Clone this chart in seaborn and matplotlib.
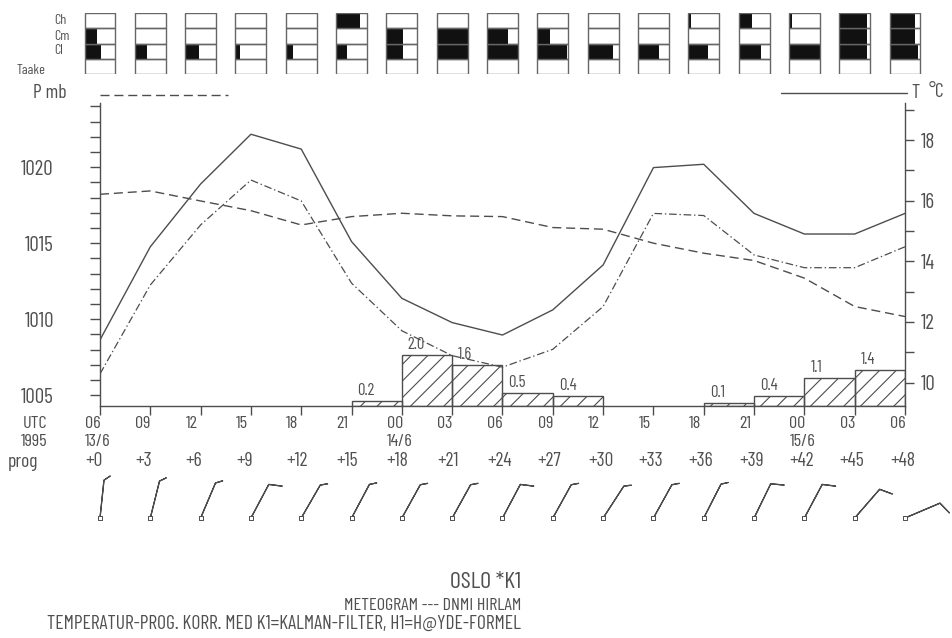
import numpy as np
import pandas as pd
import matplotlib
matplotlib.use('Agg')
import matplotlib.pyplot as plt
import matplotlib.transforms as mtransforms
from matplotlib import font_manager as fm
import seaborn as sns

# ---------------- data ----------------
prog = [0, 3, 6, 9, 12, 15, 18, 21, 24, 27, 30, 33, 36, 39, 42, 45, 48]
utc_labels = ['06', '09', '12', '15', '18', '21', '00', '03', '06',
              '09', '12', '15', '18', '21', '00', '03', '06']
prog_labels = ['+' + str(p) for p in prog]
date_prog = [0, 18, 42]
date_labels = ['13/6', '14/6', '15/6']

temp_k1 = [11.41, 14.48, 16.55, 18.19, 17.70, 14.65, 12.78, 11.98, 11.57,
           12.40, 13.88, 17.09, 17.20, 15.58, 14.90, 14.90, 15.58]
temp_h1 = [10.29, 13.22, 15.20, 16.68, 15.99, 13.28, 11.71, 10.89, 10.51,
           11.10, 12.51, 15.58, 15.51, 14.21, 13.79, 13.79, 14.48]
pressure = [1018.22, 1018.44, 1017.78, 1017.14, 1016.20, 1016.75, 1016.97,
            1016.80, 1016.75, 1016.03, 1015.92, 1015.00, 1014.34, 1013.86,
            1012.70, 1010.83, 1010.17]

precip_start = [15, 18, 21, 24, 27, 36, 39, 42, 45]
precip_mm = [0.2, 2.0, 1.6, 0.5, 0.4, 0.1, 0.4, 1.1, 1.4]

cloud_ch = [0, 0, 0, 0, 0, 0.78, 0, 0, 0, 0, 0, 0, 0.08, 0.42, 0.11, 0.91, 0.83]
cloud_cm = [0.41, 0, 0, 0, 0, 0, 0.54, 1.0, 0.68, 0.40, 0, 0, 0, 0, 0, 0.91, 0.83]
cloud_cl = [0.52, 0.38, 0.44, 0.15, 0.22, 0.35, 0.54, 1.0, 1.0, 0.96, 0.83,
            0.69, 0.65, 0.73, 1.0, 0.91, 0.92]
cloud_fog = [0] * 17

wind_dir = [6, 14, 23, 28, 30, 28, 29, 29, 28, 29, 33, 29, 27, 26, 28, 41, 67]
wind_kt = [5, 5, 5, 10, 5, 5, 5, 5, 10, 5, 5, 5, 5, 10, 10, 10, 10]

TITLE1 = 'OSLO *K1'
TITLE2 = 'METEOGRAM --- DNMI HIRLAM'
TITLE3 = 'TEMPERATUR-PROG. KORR. MED K1=KALMAN-FILTER, H1=H@YDE-FORMEL'

# ---------------- style ----------------
W, H, DPI = 953, 638, 100
sns.set_theme(style='white')
ttf = fm.fontManager.ttflist
avail = {f.name for f in ttf}


def pick_font():
    prefs = ['Saira Extra Condensed', 'Barlow Condensed', 'Saira Condensed',
             'Roboto Condensed', 'Pathway Gothic One', 'Liberation Sans Narrow']
    for fam in prefs:
        if fam in avail:
            return fam
    return 'DejaVu Sans'


FONT = pick_font()
plt.rcParams['font.family'] = [FONT, 'DejaVu Sans']
plt.rcParams['lines.scale_dashes'] = False
plt.rcParams['hatch.linewidth'] = 0.8
GRAY = '#4d4d4d'
TXT = '#505050'
plt.rcParams['hatch.color'] = GRAY

fig = plt.figure(figsize=(W / DPI, H / DPI), dpi=DPI)

# font scale: fit the long title line to its reference width (476 px)
_t = fig.text(0, 0, TITLE3, fontsize=10)
_w = _t.get_window_extent(fig.canvas.get_renderer()).width
_t.remove()
K = 10 * 476 / _w / 14.0     # points per px of cap height


def fs(cap):
    return cap * K


def fx(px):
    return px / W


def fy(py):
    return 1 - py / H


def ftext(x, y, s, cap, ha='left', va='center', **kw):
    fig.text(fx(x), fy(y), s, fontsize=fs(cap), ha=ha, va=va, color=TXT, **kw)


# ---------------- main axes ----------------
L, R, T, B = 100, 905, 103, 406
ax = fig.add_axes([fx(L), fy(B), (R - L) / W, (B - T) / H])
axP = ax.twinx()
axT = ax.twinx()
for a in (ax, axP, axT):
    a.set_facecolor('none')
ax.set_xlim(0, 48)
ax.set_ylim(1004.28, 1024.23)
axT.set_ylim(9.23, 19.22)
axP.set_ylim(0, (B - T) / 25.5)

df = pd.DataFrame({'prog': prog, 'k1': temp_k1, 'h1': temp_h1, 'p': pressure})
sns.lineplot(data=df, x='prog', y='p', ax=ax, color=GRAY, lw=1.0,
             linestyle=(0, (6.5, 3.5)))
sns.lineplot(data=df, x='prog', y='k1', ax=axT, color=GRAY, lw=1.0)
sns.lineplot(data=df, x='prog', y='h1', ax=axT, color=GRAY, lw=0.9,
             linestyle=(0, (5.5, 2.0, 1, 2.0)))

axP.bar(precip_start, precip_mm, width=3, align='edge', fill=False,
        hatch='//', edgecolor=GRAY, linewidth=1.0)
off = mtransforms.ScaledTranslation(6 / DPI, 3 / DPI, fig.dpi_scale_trans)
for s0, v in zip(precip_start, precip_mm):
    axP.text(s0, v, f'{v:.1f}', transform=axP.transData + off, ha='left',
             va='bottom', fontsize=fs(12), color=TXT)
axP.set_axis_off()

for a in (ax, axT):
    a.set_xlabel('')
    a.set_ylabel('')
    a.grid(False)
ax.spines['top'].set_visible(False)
ax.spines['right'].set_visible(False)
axT.spines['top'].set_visible(False)
axT.spines['left'].set_visible(False)
axT.spines['bottom'].set_visible(False)
for a, side in ((ax, 'left'), (ax, 'bottom'), (axT, 'right')):
    a.spines[side].set_color(GRAY)
    a.spines[side].set_linewidth(1.0)

ax.set_xticks(prog)
ax.set_xticklabels([])
ax.tick_params(axis='x', direction='out', length=6.5, width=1.0, color=GRAY,
               bottom=True)
ax.set_yticks([1005, 1010, 1015, 1020])
ax.set_yticks([v for v in range(1005, 1025) if v % 5], minor=True)
ax.tick_params(axis='y', which='both', direction='out', length=7.2, width=1.0,
               color=GRAY, left=True, labelcolor=TXT, labelsize=fs(15), pad=26)
axT.set_yticks([10, 12, 14, 16, 18])
axT.set_yticks([11, 13, 15, 17, 19], minor=True)
axT.tick_params(axis='y', which='both', direction='out', length=6.5, width=1.0,
                color=GRAY, right=True, labelcolor=TXT, labelsize=fs(15), pad=5)

# legend-like keys above the plot
ax.plot([0, 128 / 805], [1.026, 1.026], transform=ax.transAxes, clip_on=False,
        color=GRAY, lw=1.0, linestyle=(0, (6.5, 3.5)))
ax.plot([(781 - L) / 805, 1.0025], [1.033, 1.033], transform=ax.transAxes,
        clip_on=False, color=GRAY, lw=1.0)
ftext(33, 93, 'P mb', 14)
ftext(915, 93, 'T', 14, ha='center')
ftext(929, 92, '°C', 14)

# x labels under the axis
base = mtransforms.blended_transform_factory(ax.transData, ax.transAxes)


def under(dy):
    return base + mtransforms.ScaledTranslation(-15 / DPI, -dy / DPI,
                                                fig.dpi_scale_trans)


for p, lab in zip(prog, utc_labels):
    ax.text(p, 0, lab, transform=under(17), ha='left', va='center',
            fontsize=fs(13), color=TXT)
for p, lab in zip(date_prog, date_labels):
    ax.text(p, 0, lab, transform=under(36), ha='left', va='center',
            fontsize=fs(13), color=TXT)
for p, lab in zip(prog, prog_labels):
    ax.text(p, 0, lab, transform=under(55), ha='left', va='center',
            fontsize=fs(14), color=TXT)
ftext(47, 423, 'UTC', 13, ha='right')
ftext(47, 441, '1995', 13, ha='right')
ftext(8, 467, 'prog', 14, va='baseline')

# ---------------- cloud boxes ----------------
cx0, cx1 = L - 1.5 * 805 / 48, R + 1.5 * 805 / 48
axC = fig.add_axes([fx(cx0), fy(74), (cx1 - cx0) / W, 61 / H])
axC.set_xlim(-1.5, 49.5)
axC.set_ylim(0, 4)
axC.set_axis_off()
hw = 0.924
left = np.array(prog) - hw
for row, frac in enumerate([cloud_fog, cloud_cl, cloud_cm, cloud_ch]):
    axC.barh(row + 0.5, np.array(frac) * 2 * hw, left=left, height=1.0,
             color='#111111', linewidth=0)
    axC.barh(row + 0.5, 2 * hw, left=left, height=1.0, fill=False,
             edgecolor='#666666', linewidth=1.0)
ftext(54, 21, 'Ch', 10, ha='left')
ftext(54, 36, 'Cm', 10, ha='left')
ftext(54, 51, 'Cl', 10, ha='left')
ftext(17, 70, 'Taake', 10, ha='left')

# ---------------- wind barbs ----------------
axW = fig.add_axes([fx(L), fy(530), (R - L) / W, 60 / H])
axW.set_xlim(0, 48)
axW.set_ylim(0, 1)
axW.set_axis_off()
wd = np.radians(np.array(wind_dir, dtype=float))
ws = np.array(wind_kt, dtype=float)
u = -ws * np.sin(wd)
v = -ws * np.cos(wd)
pr = np.array(prog, dtype=float)
ys = np.full(len(prog), 0.2)
short = ws < 10
BL = 7.4   # barbs 'length' (shaft about 38 px at 100 dpi)
axW.barbs(pr[short], ys[short], u[short], v[short], length=BL, pivot='tip',
          sizes=dict(height=0.15, spacing=0.1), color=GRAY, linewidth=0.9,
          barb_increments=dict(half=2.5, full=5, flag=25), clip_on=False)
axW.barbs(pr[~short], ys[~short], u[~short], v[~short], length=BL,
          pivot='tip', sizes=dict(height=0.33, spacing=0.1), color=GRAY,
          linewidth=0.9, clip_on=False)
axW.scatter(pr, ys, marker='s', s=9, facecolor='white', edgecolor=GRAY,
            linewidth=0.7, zorder=5, clip_on=False)

# ---------------- titles ----------------
ftext(521, 583, TITLE1, 17, ha='right')
ftext(521, 606, TITLE2, 13, ha='right')
ftext(521, 624, TITLE3, 14, ha='right')

fig.savefig('out.png', dpi=DPI)
